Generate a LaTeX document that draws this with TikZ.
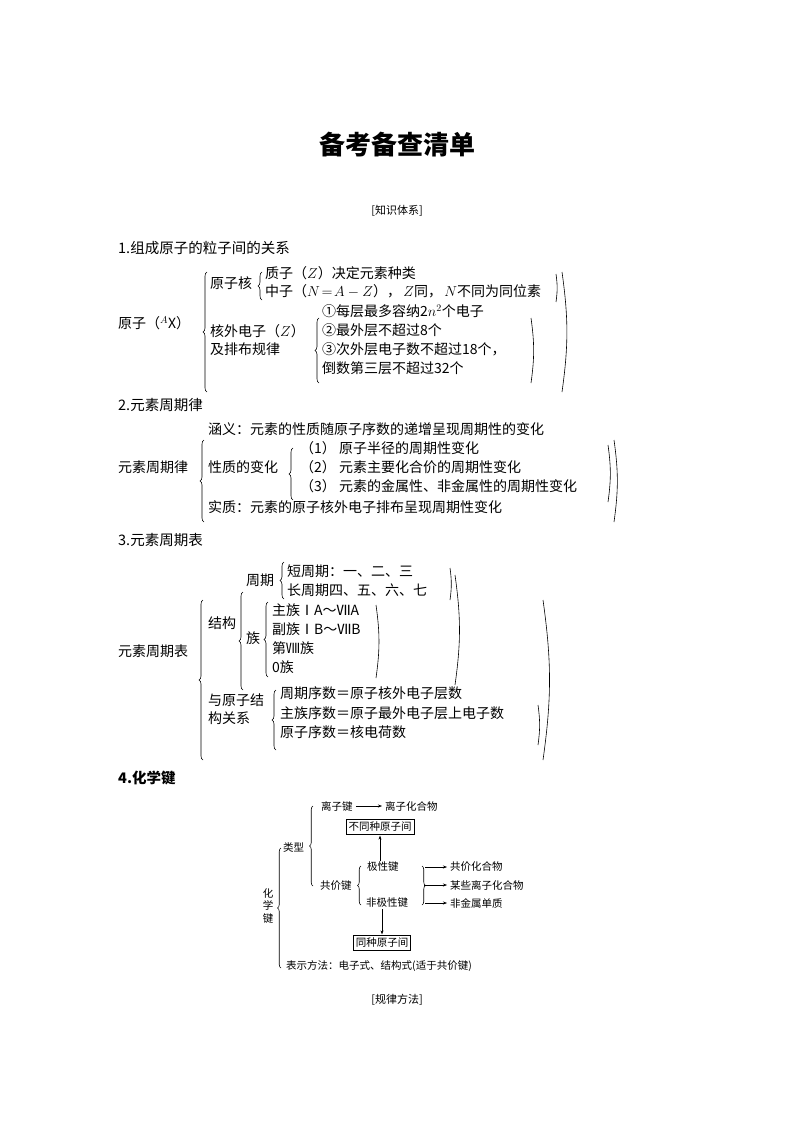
\documentclass[tikz,border=0pt]{standalone}
\usepackage{fontspec}
\setmainfont{Noto Sans CJK SC}
\usetikzlibrary{decorations.pathreplacing,arrows.meta}
\begin{document}
\begin{tikzpicture}[x=1pt,y=-1pt,
  t/.style={anchor=west,inner sep=0pt,font=\fontsize{14}{16}\selectfont},
  s/.style={anchor=west,inner sep=0pt,font=\fontsize{10.5}{12}\selectfont},
  hd/.style={anchor=west,inner sep=0pt,font=\fontsize{14.5}{16}\selectfont},
  lb/.style={decorate,decoration={brace,amplitude=4pt},line width=0.6pt},
  rp/.style={line width=0.6pt,bend left=8},
  bx/.style={draw,line width=0.6pt,inner sep=2.5pt,font=\fontsize{10.5}{12}\selectfont},
  ar/.style={-{Stealth[length=4pt]},line width=0.5pt,shorten >=3pt,shorten <=3pt}]
\useasboundingbox (0,0) rectangle (794,1123);
\node[font=\fontsize{26}{30}\selectfont\bfseries] (title) at (397,145) {备考备查清单};
\node[font=\fontsize{11}{13}\selectfont] (zs) at (397,211) {[知识体系]};
% Section 1
\node[hd] (h1) at (118,248) {1.组成原子的粒子间的关系};
\node[t] (yz) at (118,323) {原子（$^{A}$X）};
\draw[lb] (207,392) -- (207,272);
\node[t] (yzh) at (210,283) {原子核};
\draw[lb] (262,300) -- (262,272);
\node[t] (zz) at (265,273) {质子（$Z$）决定元素种类};
\node[t] (zhz) at (265,291) {中子（$N\!=\!A-Z$），\,$Z$同，\,$N$不同为同位素};
\draw[rp] (556,274) to (556,302);
\node[t] (hw1) at (210,331) {核外电子（$Z$）};
\node[t] (hw2) at (210,349) {及排布规律};
\draw[lb] (319,383) -- (319,318);
\node[t] (r1) at (322,311) {①每层最多容纳2$n^2$个电子};
\node[t] (r2) at (322,330) {②最外层不超过8个};
\node[t] (r3) at (322,349) {③次外层电子数不超过18个，};
\node[t] (r4) at (322,368) {倒数第三层不超过32个};
\draw[rp] (531,318) to (531,383);
\draw[rp] (562,272) to (562,392);
% Section 2
\node[hd] (h2) at (118,405) {2.元素周期律};
\node[t] (hy) at (208,429) {涵义：元素的性质随原子序数的递增呈现周期性的变化};
\node[t] (ys) at (118,467) {元素周期律};
\draw[lb] (204,522) -- (204,440);
\node[t] (xz) at (208,467) {性质的变化};
\draw[lb] (293,500) -- (293,448);
\node[t] (p1) at (300,448) {（1） 原子半径的周期性变化};
\node[t] (p2) at (300,467) {（2） 元素主要化合价的周期性变化};
\node[t] (p3) at (300,486) {（3） 元素的金属性、非金属性的周期性变化};
\draw[rp] (608,445) to (608,502);
\draw[rp] (614,440) to (614,522);
\node[t] (sz) at (208,507) {实质：元素的原子核外电子排布呈现周期性变化};
% Section 3
\node[hd] (h3) at (118,540) {3.元素周期表};
\node[t] (zq) at (246,580) {周期};
\draw[lb] (284,599) -- (284,562);
\node[t] (dz) at (287,571) {短周期：一、二、三};
\node[t] (cz) at (287,590) {长周期四、五、六、七};
\draw[rp] (450,568) to (450,600);
\node[t] (jg) at (208,623) {结构};
\draw[lb] (243,690) -- (243,592);
\node[t] (zu) at (246,638) {族};
\draw[lb] (268,677) -- (268,602);
\node[t] (g1) at (272,610) {主族ⅠA～ⅦA};
\node[t] (g2) at (272,629) {副族ⅠB～ⅦB};
\node[t] (g3) at (272,648) {第Ⅷ族};
\node[t] (g4) at (272,667) {0族};
\draw[rp] (376,605) to (376,678);
\draw[rp] (455,575) to (455,685);
\node[t] (yb) at (118,651) {元素周期表};
\draw[lb] (203,760) -- (203,600);
\node[t] (gx1) at (208,700) {与原子结};
\node[t] (gx2) at (208,718) {构关系};
\draw[lb] (276,750) -- (276,690);
\node[t] (q1) at (280,693) {周期序数＝原子核外电子层数};
\node[t] (q2) at (280,713) {主族序数＝原子最外电子层上电子数};
\node[t] (q3) at (280,732) {原子序数＝核电荷数};
\draw[rp] (538,705) to (538,745);
\draw[rp] (543,600) to (543,760);
% Section 4
\node[hd,font=\fontsize{14.5}{16}\selectfont\bfseries] (h4) at (118,778) {4.化学键};
\node[s] (lzj) at (321,806) {离子键};
\node[s] (lzh) at (385,806) {离子化合物};
\draw[ar] (lzj) -- (lzh);
\node[bx] (bt) at (380,827) {不同种原子间};
\node[s] (lx) at (283,848) {类型};
\draw[lb,decoration={amplitude=3.5pt}] (313,886) -- (313,806);
\node[s] (gjj) at (320,886) {共价键};
\draw[lb,decoration={amplitude=3.5pt}] (361,905) -- (361,866);
\node[s] (jxj) at (367,867) {极性键};
\node[s] (fjx) at (366,903) {非极性键};
\coordinate (up) at (380,861);
\draw[ar,shorten <=0pt,shorten >=1pt] (up) -- (bt);
\draw[lb,decoration={amplitude=3.5pt}] (422,866) -- (422,905);
\node[s] (c1) at (450,867) {共价化合物};
\node[s] (c2) at (450,885) {某些离子化合物};
\node[s] (c3) at (450,903) {非金属单质};
\coordinate (a1) at (425,867);
\coordinate (a2) at (424,885);
\coordinate (a3) at (425,903);
\draw[ar,shorten <=0pt] (a1) -- (c1);
\draw[ar,shorten <=0pt] (a2) -- (c2);
\draw[ar,shorten <=0pt] (a3) -- (c3);
\node[bx] (bs) at (382,943) {同种原子间};
\coordinate (dn) at (382,909);
\draw[ar,shorten <=0pt,shorten >=1pt] (dn) -- (bs);
\draw[lb,decoration={amplitude=3.5pt}] (281,968) -- (281,848);
\node[s,anchor=center,align=center,font=\fontsize{10.5}{12.5}\selectfont] (hxj) at (268,906) {化\\学\\键};
\node[s] (bsf) at (286,966) {表示方法：电子式、结构式(适于共价键)};
\node[font=\fontsize{11}{13}\selectfont] (gl) at (397,1000) {[规律方法]};
\end{tikzpicture}
\end{document}
